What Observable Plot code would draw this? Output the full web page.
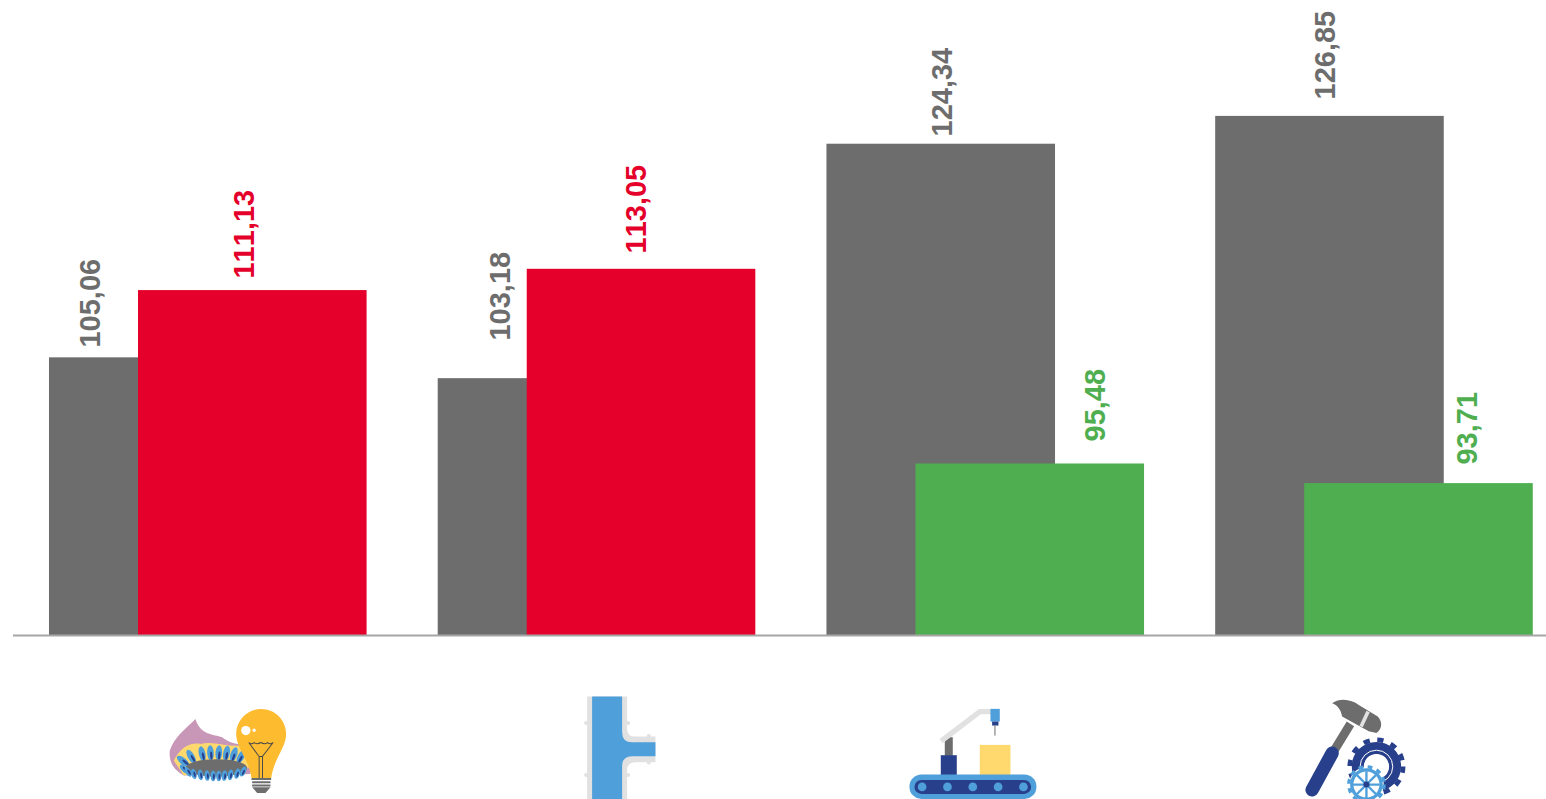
<!DOCTYPE html>
<html>
<head>
<meta charset="utf-8">
<style>html,body{margin:0;padding:0;background:#fff;overflow:hidden}svg{display:block}text{font-kerning:none}</style>
<script src="https://cdn.jsdelivr.net/npm/d3@7"></script>
<script src="https://cdn.jsdelivr.net/npm/@observablehq/plot@0.6"></script>
</head>
<body>
<div id="chart"></div>
<script>
const categories = ["energy", "pipes", "production", "tools"];
const groupStart = [0, 1, 2, 3];
const previous = [105.06, 103.18, 124.34, 126.85];
const current = [111.13, 113.05, 95.48, 93.71];
const labelsPrevious = ["105,06", "103,18", "124,34", "126,85"];
const labelsCurrent = ["111,13", "113,05", "95,48", "93,71"];
const currentColors = ["#e4002b", "#e4002b", "#4fae50", "#4fae50"];
const iconCenters = [0.4656, 1.4688, 2.382, 3.3595];
const labelXPrevious = [0.106, 1.160, 2.297, 3.283];
const labelXCurrent = [0.502, 1.510, 2.691, 3.648];
const labelYPrevious = [105.99, 106.62, 125.04, 128.38];
const labelYCurrent = [112.22, 114.48, 97.51, 95.43];

const GREY = "#6d6d6d", BLUE = "#4f9fdb", NAVY = "#28408c", LIGHT = "#e1e1e1", YEL = "#ffd96e", PINK = "#c897b8", AMBER = "#fdbb30";
const barWidth = 0.588, currentOffset = 0.229, baseValue = 80;

const svgIcon = (vb, body) => "data:image/svg+xml," + encodeURIComponent(
  `<svg xmlns="http://www.w3.org/2000/svg" width="160" height="110" viewBox="${vb} 480 330">${body}</svg>`);

function burner() {
  let s = `<path d="M135 85C105 115 70 140 58 180C55 210 65 235 100 255L300 250L300 160C270 165 240 160 215 140C190 130 150 135 135 85Z" fill="${PINK}"/>`;
  s += `<path d="M70 210C90 170 120 155 150 160C190 150 230 170 270 165L300 230L100 255Z" fill="${YEL}"/>`;
  [[98,212,-50],[122,198,-30],[155,190,-12],[180,187,-4],[205,187,4],[228,188,10],[250,192,18],[272,198,28]].forEach(([x,y,a]) => {
    s += `<ellipse cx="${x}" cy="${y}" rx="10" ry="23" fill="${BLUE}" transform="rotate(${a} ${x} ${y})"/>`;
    s += `<ellipse cx="${x+2}" cy="${y+8}" rx="3.5" ry="12" fill="${NAVY}" transform="rotate(${a} ${x} ${y})"/>`;
  });
  s += `<ellipse cx="198" cy="232" rx="92" ry="26" fill="${GREY}"/>`;
  [[100,235,-40],[113,244,-30],[130,250,-15],[150,253,-8],[170,255,-4],[188,256,0],[205,256,0],[222,255,5],[240,253,10],[260,249,15],[278,243,25]].forEach(([x,y,a]) => {
    s += `<ellipse cx="${x}" cy="${y}" rx="8" ry="16" fill="${BLUE}" transform="rotate(${a} ${x} ${y})"/>`;
    s += `<ellipse cx="${x+2}" cy="${y+2}" rx="3" ry="9" fill="${NAVY}" transform="rotate(${a} ${x} ${y})"/>`;
  });
  s += `<path d="M332 55C375 55 407 90 407 130C407 170 372 200 362 262L303 262C295 205 257 170 257 130C257 90 290 55 332 55Z" fill="${AMBER}"/>`;
  s += `<circle cx="286" cy="120" r="14" fill="#fff"/><circle cx="311" cy="119" r="5" fill="#fff"/>`;
  s += `<path d="M295 156Q303 163 311 156Q319 163 331 156Q343 163 351 156Q359 163 368 156L336 198L336 262M295 156L326 198L326 262M326 198L336 198" fill="none" stroke="#4a4a4a" stroke-width="3"/>`;
  s += `<path d="M303 262H362V268H303ZM305 272H360V278H305ZM305 282H360V288H305ZM305 290H360L345 307H320Z" fill="${GREY}"/>`;
  return s;
}

function pipe() {
  return `<path d="M80 18H200V115Q200 138 225 138H285V215H225Q200 215 200 238V330H80Z" fill="${LIGHT}"/>`
    + [[77,97],[77,253],[203,97],[203,253],[265,136],[265,216]].map(([x,y]) => `<circle cx="${x}" cy="${y}" r="6" fill="${LIGHT}"/>`).join("")
    + `<path d="M95 18H185V125Q185 155 215 155H285V197H215Q185 197 185 227V330H95Z" fill="${BLUE}"/>`;
}

function robot() {
  return `<rect x="133" y="125" width="24" height="56" fill="${GREY}"/>`
    + `<path d="M122 137L238 48H275" fill="none" stroke="${LIGHT}" stroke-width="16"/>`
    + `<rect x="270" y="40" width="28" height="38" fill="${BLUE}"/><rect x="275" y="78" width="19" height="12" fill="${NAVY}"/><rect x="282" y="90" width="3" height="30" fill="${GREY}"/>`
    + `<rect x="238" y="148" width="92" height="92" fill="${YEL}"/><rect x="121" y="179" width="48" height="60" fill="${NAVY}"/>`
    + `<rect x="27" y="237" width="381" height="73" rx="36" fill="${BLUE}"/><rect x="42" y="253" width="350" height="42" rx="21" fill="${NAVY}"/>`
    + [65,141,217,293,369].map(x => `<circle cx="${x}" cy="274" r="13" fill="${BLUE}"/>`).join("");
}

function tools() {
  const ring = (cx, cy, r, w, fill, dash) =>
    `<circle cx="${cx}" cy="${cy}" r="${r}" fill="none" stroke="${fill}" stroke-width="${w}"${dash ? ` stroke-dasharray="${dash}"` : ""}/>`;
  let s = `<path d="M180 100L125 190" stroke="${GREY}" stroke-width="26" fill="none"/>`;
  s += `<path d="M125 38C150 20 185 28 205 43L262 78C278 95 274 118 258 127L235 122L155 78C152 58 140 42 125 38Z" fill="${GREY}"/>`;
  s += `<path d="M233 63L212 108" stroke="${LIGHT}" stroke-width="11" fill="none"/>`;
  s += `<path d="M65 298L125 188" stroke="${NAVY}" stroke-width="40" stroke-linecap="round" fill="none"/>`;
  s += ring(258, 228, 56, 36, NAVY);
  s += ring(258, 228, 80, 14, NAVY, "19 22.9");
  s += ring(258, 228, 49, 3, "#fff");
  s += `<circle cx="258" cy="228" r="36" fill="#fff"/>`;
  s += `<circle cx="228" cy="282" r="52" fill="#fff"/>`;
  s += ring(228, 282, 44, 10, BLUE);
  s += ring(228, 282, 53, 10, BLUE, "14 14");
  [0, 45, 90, 135].forEach(a => { s += `<path d="M188 282H268" stroke="${BLUE}" stroke-width="7" transform="rotate(${a} 228 282)"/>`; });
  s += `<circle cx="228" cy="282" r="9" fill="${NAVY}"/>`;
  return s;
}

const iconSources = [
  svgIcon("0 -3", burner()),
  svgIcon("-60 -3", pipe()),
  svgIcon("-15 -18", robot()),
  svgIcon("-45 -3", tools())
];

const prevRows = categories.map((c, i) => ({c, x1: groupStart[i], x2: groupStart[i] + barWidth, v: previous[i], label: labelsPrevious[i], lx: labelXPrevious[i], ly: labelYPrevious[i]}));
const currRows = categories.map((c, i) => ({c, x1: groupStart[i] + currentOffset, x2: groupStart[i] + currentOffset + barWidth, v: current[i], label: labelsCurrent[i], color: currentColors[i], lx: labelXCurrent[i], ly: labelYCurrent[i]}));
const iconRows = categories.map((c, i) => ({c, x: iconCenters[i], y: 70.16, src: iconSources[i]}));

const font = {fontFamily: "'Liberation Sans', Arial, sans-serif", fontWeight: "bold", fontSize: 29, rotate: -90, textAnchor: "start", lineAnchor: "middle"};

const plot = Plot.plot({
  width: 1546, height: 799,
  marginTop: 0, marginRight: 0, marginBottom: 0, marginLeft: 0,
  style: {background: "#fff"},
  x: {domain: [-0.126, 3.851], range: [0, 1546], axis: null},
  y: {domain: [65.2, 137.31], range: [799, 0], axis: null},
  marks: [
    Plot.rectY(prevRows, {x1: "x1", x2: "x2", y1: baseValue, y2: "v", fill: GREY}),
    Plot.rectY(currRows, {x1: "x1", x2: "x2", y1: baseValue, y2: "v", fill: "color"}),
    Plot.ruleY([baseValue], {x1: -0.0926, x2: 3.851, stroke: "#a6a6a6", strokeWidth: 2}),
    Plot.text(prevRows, {x: "lx", y: "ly", text: "label", fill: GREY, ...font}),
    Plot.text(currRows, {x: "lx", y: "ly", text: "label", fill: "color", ...font}),
    Plot.image(iconRows, {x: "x", y: "y", src: "src", width: 160, height: 110})
  ]
});
document.getElementById("chart").appendChild(plot);
</script>
</body>
</html>
